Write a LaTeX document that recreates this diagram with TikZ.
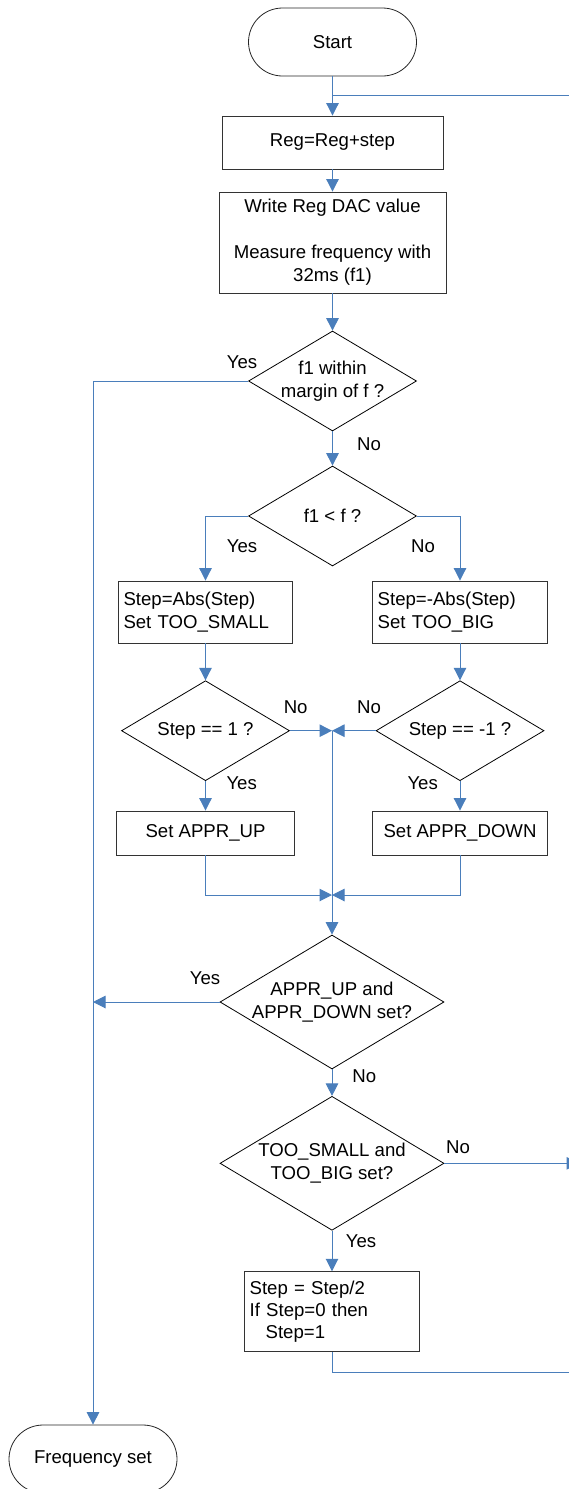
\documentclass[tikz,border=0pt]{standalone}
\usepackage{fontspec}
\setmainfont{Liberation Sans}
\usetikzlibrary{arrows.meta,shapes.geometric}
\definecolor{flow}{HTML}{4A7EBB}
\begin{document}
\begin{tikzpicture}[x=1pt,y=-1pt,
  every node/.style={font=\fontsize{18.6}{23}\selectfont, inner sep=0pt},
  term/.style={draw=black!85, line width=0.8pt, rectangle, rounded corners=34pt, minimum width=168pt, minimum height=68pt},
  procbox/.style={draw=black!80, line width=0.9pt, rectangle, align=center},
  leftbox/.style={draw=black!80, line width=0.9pt, rectangle, align=left, inner xsep=5pt},
  decision/.style={draw=black, line width=0.8pt, diamond, minimum width=168pt, minimum height=100pt},
  bigdecision/.style={decision, minimum width=224pt, minimum height=134pt},
  flowline/.style={draw=flow, line width=1pt},
  flowarrow/.style={flowline, -{Triangle[length=12.5pt,width=12.5pt]}}
]
\useasboundingbox (0,0) rectangle (569,1489);
\clip (0,0) rectangle (569,1489);

% nodes
\node[term] (start) at (332.5,42) {Start};
\node[procbox, minimum width=221pt, minimum height=53pt] (reg) at (332.5,142.5) {Reg=Reg+step};
\node[procbox, minimum width=227pt, minimum height=101pt] (write) at (332.5,242.5) {Write Reg DAC value\\\mbox{}\\Measure frequency with\\32ms (f1)};
\node[decision] (d1) at (332.5,381) {};
\node[align=center] (d1t) at (d1) {f1 within\\margin of f ?};
\node[decision] (d2) at (332.5,516) {};
\node (d2t) at (d2) {f1 < f ?};
\node[leftbox, text width=164pt, minimum height=62pt] (b1) at (205.5,612) {Step=Abs(Step)\\Set TOO\_SMALL};
\node[leftbox, text width=164.6pt, minimum height=62pt] (b2) at (460,612) {Step=-Abs(Step)\\Set TOO\_BIG};
\node[decision] (d3) at (205.5,730.7) {};
\node (d3t) at (d3) {Step == 1 ?};
\node[decision] (d4) at (460,730.7) {};
\node (d4t) at (d4) {Step == -1 ?};
\node[procbox, minimum width=178.3pt, minimum height=44pt] (up) at (205.5,833) {Set APPR\_UP};
\node[procbox, minimum width=174.6pt, minimum height=44pt] (down) at (460,833) {Set APPR\_DOWN};
\node[bigdecision] (d5) at (332,1002) {};
\node[align=center] (d5t) at (d5) {APPR\_UP and\\APPR\_DOWN set?};
\node[bigdecision] (d6) at (332,1163.3) {};
\node[align=center] (d6t) at (d6) {TOO\_SMALL and\\TOO\_BIG set?};
\node[leftbox, text width=164.7pt, minimum height=80pt, font=\fontsize{18.6}{21.7}\selectfont] (half) at (332,1311.7) {Step = Step/2\\If Step=0 then\\\hspace*{16pt}Step=1};
\node[term] (freq) at (93,1459) {Frequency set};

% helper coordinates
\coordinate (jtop) at (332.5,95);
\coordinate (rtop) at (585,95);
\coordinate (rbot) at (585,1372);
\coordinate (rmid) at (579,1163.3);
\coordinate (m1) at (332,730.7);
\coordinate (m2) at (332,895);
\coordinate (lc) at (93,1002);

% connectors
\draw[flowarrow] (start) -- (reg);
\draw[flowline] (rbot) -- (rtop) -- (jtop);
\draw[flowarrow] (reg) -- (write);
\draw[flowarrow] (write) -- (d1);
\draw[flowarrow] (d1.west) -| (freq.north);
\draw[flowarrow] (d1.south) -- (d2.north);
\draw[flowarrow] (d2.west) -| (b1.north);
\draw[flowarrow] (d2.east) -| (b2.north);
\draw[flowarrow] (b1.south) -- (d3.north);
\draw[flowarrow] (b2.south) -- (d4.north);
\draw[flowarrow] (d3.east) -- (m1);
\draw[flowarrow] (d4.west) -- (m1);
\draw[flowarrow] (d3.south) -- (up.north);
\draw[flowarrow] (d4.south) -- (down.north);
\draw[flowarrow] (up.south) |- (m2);
\draw[flowarrow] (down.south) |- (m2);
\draw[flowarrow] (m1) -- (d5.north);
\draw[flowarrow] (d5.west) -- (lc);
\draw[flowarrow] (d5.south) -- (d6.north);
\draw[flowarrow] (d6.east) -- (rmid);
\draw[flowarrow] (d6.south) -- (half.north);
\draw[flowline] (half.south) |- (rbot);

% labels
\node (y1) at (242,362) {Yes};
\node (n1) at (369,444) {No};
\node (y2) at (242,545.7) {Yes};
\node (n2) at (423,546) {No};
\node (n3) at (295.7,706.7) {No};
\node (n4) at (369,706.7) {No};
\node (y3) at (241.7,783.3) {Yes};
\node (y4) at (422.7,783.3) {Yes};
\node (y5) at (205,978.3) {Yes};
\node (n5) at (364.3,1075.7) {No};
\node (n6) at (458,1146.7) {No};
\node (y6) at (361,1240.7) {Yes};
\end{tikzpicture}
\end{document}
